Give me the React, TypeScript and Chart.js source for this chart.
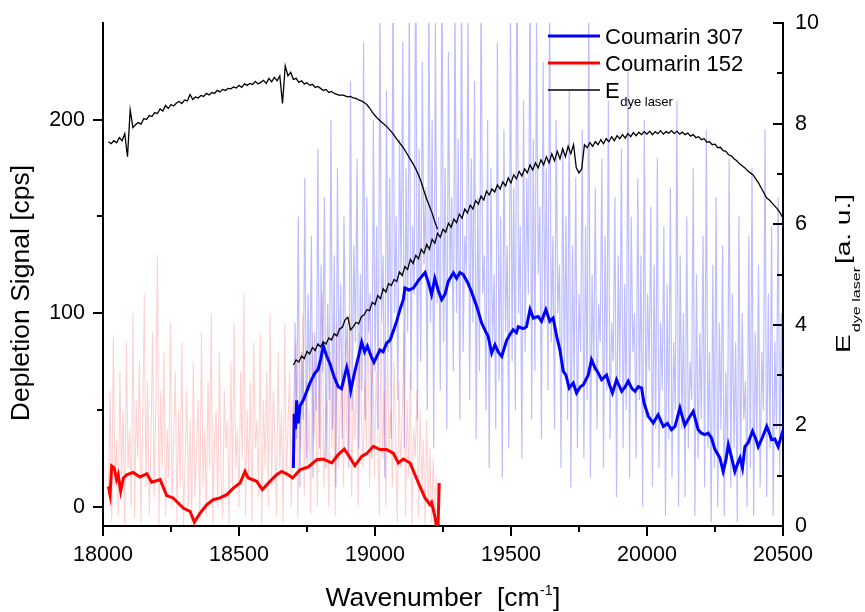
import React, { useEffect, useRef } from 'react';
import { Chart, registerables } from 'chart.js';

Chart.register(...registerables);

// ---------------- data ----------------
// Coumarin 307, smoothed depletion signal [cps]
const c307SmoothX = [
  18700, 18703, 18708, 18712, 18718, 18724, 18736, 18750, 18761, 18779,
  18791, 18800, 18810, 18822, 18834, 18850, 18865, 18877, 18896, 18903,
  18911, 18926, 18940, 18951, 18962, 18972, 18985, 18996, 19008, 19018,
  19030, 19043, 19055, 19067, 19080, 19092, 19104, 19110, 19125, 19141,
  19160, 19184, 19196, 19208, 19220, 19232, 19245, 19258, 19269, 19288,
  19300, 19312, 19325, 19340, 19355, 19374, 19392, 19405, 19416, 19429,
  19441, 19453, 19466, 19484, 19496, 19508, 19520, 19527, 19545, 19557,
  19570, 19582, 19600, 19612, 19628, 19643, 19655, 19668, 19680, 19692,
  19702, 19714, 19729, 19741, 19755, 19766, 19784, 19796, 19808, 19821,
  19833, 19851, 19862, 19873, 19888, 19907, 19920, 19931, 19945, 19956,
  19968, 19980, 19989, 20005, 20023, 20041, 20060, 20075, 20090, 20103,
  20121, 20139, 20155, 20170, 20188, 20200, 20213, 20225, 20237, 20250,
  20268, 20280, 20290, 20299, 20310, 20323, 20335, 20342, 20351, 20360,
  20372, 20388, 20400, 20409, 20425, 20440, 20450, 20458, 20470, 20482,
  20498, 20500,
];
const c307SmoothY = [
  20, 48, 40, 55, 43, 52, 55, 60, 64, 69,
  71, 76, 83, 78, 74, 67, 62, 61, 72, 68,
  60, 70, 78, 85, 80, 83, 78, 74.6, 78, 81,
  80, 84.6, 86, 90.6, 96, 102, 107, 113, 112, 113,
  117, 121, 116, 109.6, 118, 112, 107, 110, 116.4, 120.8,
  118, 121, 119.9, 116, 111, 103.5, 95, 91, 88, 79.4,
  83.7, 80, 77.7, 86, 89, 91.5, 90, 93, 92, 93,
  102, 97.5, 98.3, 95.8, 101.8, 95.8, 97.5, 88, 81, 70,
  68, 61.3, 63.9, 58.8, 62, 63, 68, 76, 72, 69,
  65.6, 68, 63, 58.8, 65.6, 59.6, 62, 64.8, 61, 59.6,
  62, 61.3, 53.6, 46.7, 43.2, 47.5, 41.5, 43, 39.8, 41.5,
  51, 42, 46, 49.2, 39.8, 38, 37.2, 38, 35.5, 29.5,
  25.2, 18.2, 24, 32, 26, 18.2, 23, 25.2, 20, 31,
  33, 39, 35, 31, 36, 41.5, 38, 34.6, 35, 31,
  38.4, 38,
];

// Coumarin 152, smoothed depletion signal [cps]
const c152SmoothX = [
  18020, 18026, 18032, 18041, 18050, 18056, 18065, 18075, 18087, 18111,
  18136, 18161, 18179, 18210, 18234, 18258, 18295, 18320, 18336, 18357,
  18381, 18405, 18430, 18455, 18479, 18504, 18522, 18534, 18565, 18586,
  18608, 18638, 18657, 18681, 18697, 18724, 18755, 18786, 18810, 18841,
  18865, 18887, 18905, 18926, 18951, 18969, 18994, 19018, 19043, 19067,
  19086, 19104, 19129, 19147, 19165, 19184, 19202, 19208, 19220, 19226,
  19232, 19236,
];
const c152SmoothY = [
  10.5, 6.2, 21, 20, 14, 16.5, 8, 14.8, 16.5, 17.7,
  15.3, 17, 12.6, 14, 5.7, 4.5, -0.7, -2.4, -8, -3.3,
  1, 3.6, 4.5, 6.2, 9.6, 12.2, 18.2, 14.8, 13.1, 8.8,
  12.2, 16.5, 18.2, 16.5, 14.8, 19, 20.5, 24.3, 24.6, 22.6,
  26.9, 29.8, 26, 21.2, 26, 27.4, 31.2, 29.5, 29.5, 27.7,
  22.6, 24.6, 22.6, 16.5, 10.5, 4.5, 1, 2.2, -5, -10,
  -9, 12.2,
];

// Coumarin 307, raw depletion signal [cps], sampled every 6 cm-1 from 18700
const c307RawStart = 18700;
const c307RawStep = 6;
const c307Raw = [
  20, 95, 35, 150, 10, 80, 45, 170, 25, 110,
  60, 140, 15, 90, 50, 185, 30, 125, 70, 160,
  20, 105, 55, 200, 40, 130, 10, 175, 65, 115,
  35, 150, 75, 95, 20, 220, 50, 135, 85, 180,
  30, 120, 60, 240, 45, 160, 90, 110, 25, 200,
  70, 145, 40, 260, 95, 130, 15, 215, 80, 170,
  35, 280, 100, 150, 55, 190, 120, 240, 30, 175,
  90, 260, 60, 145, 110, 300, 45, 185, 75, 230,
  125, 165, 50, 270, 95, 200, 30, 250, 105, 150,
  60, 290, 85, 175, 40, 235, 115, 160, 70, 265,
  100, 190, 45, 280, 80, 140, 120, 255, 55, 180,
  95, 220, 35, 160, 70, 270, 110, 130, 50, 200,
  20, 175, 85, 120, 40, 240, 65, 150, 15, 195,
  90, 135, 30, 260, 75, 165, 50, 300, 100, 145,
  25, 210, 80, 170, 110, 280, 45, 190, 70, 250,
  120, 155, 35, 230, 95, 175, 60, 265, 85, 140,
  40, 200, 100, 125, 20, 185, 70, 150, 45, 215,
  10, 135, 60, 170, 30, 110, 80, 195, 25, 145,
  55, 260, 15, 120, 70, 165, 40, 105, 85, 180,
  20, 140, 60, 210, 35, 95, 75, 160, 5, 130,
  65, 185, 30, 115, 50, 225, 15, 150, 80, 100,
  25, 170, 55, 130, 0, 200, 45, 110, 70, 155,
  10, 125, 40, 180, 20, 95, 60, 145, -5, 115,
  35, 165, 15, 85, 50, 210, 0, 130, 40, 100,
  5, 150, 30, 75, 55, 175, -5, 120, 25, 90,
  45, 140, 10, 195, 30, 80, -8, 125, 20, 160,
  0, 95, 40, 135, -5, 70, 25, 180, 10, 110,
  30, 85, -8, 150, 15, 100, 45, 65, 0, 140,
  20, 175, -5, 90, 35, 125, 10, 80, 50, 195,
  5, 110, 30, 145, -5, 85, 40, 160, 15, 100,
  35,
];

// Coumarin 152, raw depletion signal [cps], sampled every 6 cm-1 from 18020
const c152RawStart = 18020;
const c152RawStep = 6;
const c152Raw = [
  5, 60, -8, 88, 10, 35, -5, 70, 15, 50,
  -10, 85, 20, 40, 0, 100, -6, 55, 25, 75,
  -8, 45, 110, 10, 65, -4, 30, 90, 5, 50,
  130, -10, 60, 20, 80, -5, 40, 15, 95, 0,
  35, 70, -8, 50, 10, 85, -10, 25, 60, 0,
  45, -10, 75, 5, 30, 55, -8, 90, 10, 40,
  -5, 65, 20, 100, -10, 35, 50, 0, 80, 15,
  -6, 60, 30, 45, -10, 75, 10, 95, 20, 40,
  0, 70, 25, 110, -5, 50, 15, 65, -8, 85,
  30, 45, 5, 90, -10, 55, 20, 70, 0, 100,
  10, 60, 35, -5, 80, 20, 50, -8, 95, 15,
  40, 70, 0, 55, 25, 85, -6, 45, 30, 100,
  5, 65, 20, 50, -4, 90, 35, 60, 0, 75,
  25, 110, 10, 45, 55, 0, 80, 30, 65, -5,
  95, 20, 50, 70, 10, 85, 40, 25, 100, 5,
  60, 35, 75, 0, 90, 45, 20, 65, 30, 105,
  10, 55, 80, 15, 70, 40, -5, 95, 25, 60,
  0, 85, 30, 50, 10, 75, 35, -8, 65, 20,
  45, 90, -5, 55, 15, 70, -10, 40, 25, 60,
  -6, 50, 10, 35, -10, 45, 0, 30, -8, 25,
  -10, 15, 5,
];

// Dye laser energy [a. u.], first scan (every 10 cm-1 from 18020)
const dyeAStart = 18020;
const dyeAStep = 10;
const dyeA = [
  7.64, 7.60, 7.66, 7.62, 7.72, 7.66, 7.80, 7.34, 8.27, 7.92,
  7.98, 8.02, 7.99, 8.10, 8.08, 8.16, 8.14, 8.22, 8.20, 8.29,
  8.25, 8.36, 8.30, 8.38, 8.35, 8.41, 8.44, 8.40, 8.47, 8.45,
  8.58, 8.48, 8.53, 8.51, 8.56, 8.54, 8.60, 8.57, 8.62, 8.60,
  8.66, 8.63, 8.68, 8.66, 8.70, 8.69, 8.73, 8.71, 8.76, 8.72,
  8.79, 8.76, 8.80, 8.78, 8.84, 8.79, 8.82, 8.86, 8.80, 8.90,
  8.83, 8.92, 8.85, 8.95, 8.40, 9.15, 8.95, 9.02, 8.88, 8.90,
  8.82, 8.85, 8.79, 8.81, 8.76, 8.78, 8.72, 8.74, 8.70, 8.66,
  8.68, 8.62, 8.64, 8.60, 8.58, 8.56, 8.57, 8.55, 8.53, 8.54,
  8.51, 8.50, 8.47, 8.45, 8.42, 8.38, 8.31, 8.23, 8.16, 8.10,
  8.05, 8.00, 7.96, 7.90, 7.84, 7.77, 7.69, 7.62, 7.55, 7.47,
  7.38, 7.29, 7.20, 7.10, 6.98, 6.84, 6.66, 6.50, 6.36, 6.22,
  6.05, 5.90,
];

// Dye laser energy [a. u.], second scan (every 10 cm-1 from 18700)
const dyeBStart = 18700;
const dyeBStep = 10;
const dyeB = [
  3.20, 3.30, 3.26, 3.38, 3.33, 3.47, 3.42, 3.55, 3.49, 3.62,
  3.56, 3.66, 3.62, 3.74, 3.70, 3.82, 3.78, 3.92, 3.95, 4.10,
  4.15, 3.90, 3.96, 4.05, 4.02, 4.16, 4.20, 4.30, 4.28, 4.45,
  4.40, 4.58, 4.52, 4.72, 4.65, 4.82, 4.78, 4.90, 4.86, 5.05,
  4.98, 5.16, 5.10, 5.30, 5.22, 5.38, 5.31, 5.50, 5.42, 5.60,
  5.50, 5.70, 5.62, 5.82, 5.74, 5.90, 5.84, 6.02, 5.94, 6.10,
  6.03, 6.20, 6.12, 6.30, 6.22, 6.38, 6.30, 6.47, 6.40, 6.56,
  6.48, 6.66, 6.58, 6.70, 6.64, 6.78, 6.70, 6.84, 6.76, 6.92,
  6.82, 6.98, 6.90, 7.05, 6.96, 7.10, 7.02, 7.18, 7.08, 7.22,
  7.12, 7.28, 7.18, 7.34, 7.22, 7.40, 7.26, 7.45, 7.30, 7.50,
  7.34, 7.55, 7.40, 7.58, 7.12, 7.02, 7.10, 7.58, 7.52, 7.62,
  7.55, 7.64, 7.58, 7.68, 7.60, 7.70, 7.64, 7.74, 7.66, 7.76,
  7.70, 7.78, 7.71, 7.80, 7.74, 7.82, 7.76, 7.83, 7.78, 7.84,
  7.79, 7.85, 7.78, 7.84, 7.80, 7.86, 7.79, 7.84, 7.81, 7.86,
  7.80, 7.85, 7.79, 7.83, 7.78, 7.81, 7.75, 7.78, 7.72, 7.74,
  7.68, 7.70, 7.63, 7.64, 7.58, 7.59, 7.52, 7.53, 7.46, 7.45,
  7.38, 7.36, 7.30, 7.26, 7.20, 7.16, 7.12, 7.06, 7.02, 6.98,
  6.90, 6.82, 6.72, 6.62, 6.52, 6.48, 6.42, 6.36, 6.30, 6.22,
  6.12,
];

// axes
const xRange = [18000, 20500];
const leftRange = [-10, 250];
const rightRange = [0, 10];
const xMajorTicks = [18000, 18500, 19000, 19500, 20000, 20500];
const leftMajorTicks = [0, 100, 200];
const rightMajorTicks = [0, 2, 4, 6, 8, 10];
const xMinorTicks = [18250, 18750, 19250, 19750, 20250];
const leftMinorTicks = [50, 150];
const rightMinorTicks = [1, 3, 5, 7, 9];

const legendLabels = ['Coumarin 307', 'Coumarin 152', 'E'];
const legendSub = 'dye laser';
const xTitle = 'Wavenumber  [cm';
const xTitleSup = '-1';
const leftTitle = 'Depletion Signal [cps]';
const rightTitleMain = 'E';
const rightTitleSub = 'dye laser';
const rightTitleEnd = '[a. u.]';

// ---------------- helpers ----------------
const FONT = 'Arial, "Liberation Sans", sans-serif';
const BLUE = '#0000ff';
const RED = '#ff0000';

const zip = (xs: number[], ys: number[]) => xs.map((x, i) => ({ x, y: ys[i] }));
const onGrid = (start: number, step: number, ys: number[]) =>
  ys.map((y, i) => ({ x: start + i * step, y }));
const setTicks = (values: number[]) => (s: any) => {
  s.ticks = values.map((v) => ({ value: v }));
};
const fixSize = (prop: 'width' | 'height', size: number) => (s: any) => {
  s[prop] = size;
  s.paddingTop = 0;
  s.paddingBottom = 0;
  s.paddingLeft = 0;
  s.paddingRight = 0;
};

const decorations = {
  id: 'decorations',
  afterDraw(chart: any) {
    const ctx: CanvasRenderingContext2D = chart.ctx;
    const area = chart.chartArea;
    const sx = chart.scales.x;
    const sy = chart.scales.y;
    const sy1 = chart.scales.y1;
    ctx.save();
    // minor ticks
    ctx.strokeStyle = '#000';
    ctx.lineWidth = 2;
    ctx.beginPath();
    xMinorTicks.forEach((v) => {
      const p = Math.round(sx.getPixelForValue(v));
      ctx.moveTo(p, area.bottom);
      ctx.lineTo(p, area.bottom + 6);
    });
    leftMinorTicks.forEach((v) => {
      const p = Math.round(sy.getPixelForValue(v));
      ctx.moveTo(area.left - 6, p);
      ctx.lineTo(area.left, p);
    });
    rightMinorTicks.forEach((v) => {
      const p = Math.round(sy1.getPixelForValue(v));
      ctx.moveTo(area.right - 6, p);
      ctx.lineTo(area.right, p);
    });
    ctx.stroke();

    ctx.fillStyle = '#000';
    ctx.textBaseline = 'alphabetic';

    // bottom title
    const cx = (area.left + area.right) / 2;
    const big = `26.5px ${FONT}`;
    const small = `14px ${FONT}`;
    ctx.font = big;
    const w1 = ctx.measureText(xTitle).width;
    const w3 = ctx.measureText(']').width;
    ctx.font = small;
    const w2 = ctx.measureText(xTitleSup).width;
    const x0 = cx - (w1 + w2 + 1 + w3) / 2;
    const by = area.bottom + 80;
    ctx.textAlign = 'left';
    ctx.font = big;
    ctx.fillText(xTitle, x0, by);
    ctx.font = small;
    ctx.fillText(xTitleSup, x0 + w1 + 0.5, by - 11);
    ctx.font = big;
    ctx.fillText(']', x0 + w1 + w2 + 1, by);

    // left title
    ctx.save();
    ctx.translate(area.left - 74, area.top + 270);
    ctx.rotate(-Math.PI / 2);
    ctx.textAlign = 'center';
    ctx.font = `26.5px ${FONT}`;
    ctx.fillText(leftTitle, 0, 0);
    ctx.restore();

    // right title
    ctx.save();
    ctx.translate(area.right + 67, area.top + 330);
    ctx.rotate(-Math.PI / 2);
    ctx.scale(1.4, 1);
    ctx.textAlign = 'left';
    ctx.font = `20px ${FONT}`;
    const eW = ctx.measureText(rightTitleMain).width;
    ctx.fillText(rightTitleMain, 0, 0);
    ctx.font = `11.5px ${FONT}`;
    const sW = ctx.measureText(rightTitleSub).width;
    ctx.fillText(rightTitleSub, eW + 1.5, 10);
    ctx.font = `20px ${FONT}`;
    ctx.fillText(rightTitleEnd, eW + sW + 3.5, 0);
    ctx.restore();

    // legend
    const lx0 = area.right - 235;
    const lx1 = area.right - 183;
    const tx = area.right - 178;
    const rows = [
      { color: BLUE, width: 3, y: area.top + 13 },
      { color: RED, width: 3, y: area.top + 40 },
      { color: '#000', width: 1.5, y: area.top + 67 },
    ];
    rows.forEach((r, i) => {
      ctx.strokeStyle = r.color;
      ctx.lineWidth = r.width;
      ctx.beginPath();
      ctx.moveTo(lx0, r.y);
      ctx.lineTo(lx1, r.y);
      ctx.stroke();
      ctx.font = `22px ${FONT}`;
      ctx.textAlign = 'left';
      ctx.fillText(legendLabels[i], tx, r.y + 8);
      if (i === 2) {
        const ew = ctx.measureText(legendLabels[i]).width;
        ctx.font = `13px ${FONT}`;
        ctx.fillText(legendSub, tx + ew + 0.5, r.y + 16);
      }
    });
    ctx.restore();
  },
};

export default function App() {
  const ref = useRef<HTMLCanvasElement | null>(null);

  useEffect(() => {
    if (!ref.current) return;
    const tickFont = { family: FONT, size: 21.5 };
    const chart = new Chart(ref.current, {
      type: 'line',
      data: {
        datasets: [
          {
            label: 'E dye laser (scan 1)',
            data: onGrid(dyeAStart, dyeAStep, dyeA),
            yAxisID: 'y1',
            borderColor: '#000',
            borderWidth: 1.3,
            order: 1,
          },
          {
            label: 'E dye laser (scan 2)',
            data: onGrid(dyeBStart, dyeBStep, dyeB),
            yAxisID: 'y1',
            borderColor: '#000',
            borderWidth: 1.3,
            order: 1,
          },
          {
            label: 'Coumarin 307',
            data: zip(c307SmoothX, c307SmoothY),
            yAxisID: 'y',
            borderColor: BLUE,
            borderWidth: 3,
            order: 2,
          },
          {
            label: 'Coumarin 152',
            data: zip(c152SmoothX, c152SmoothY),
            yAxisID: 'y',
            borderColor: RED,
            borderWidth: 3,
            order: 3,
          },
          {
            label: 'Coumarin 152 raw',
            data: onGrid(c152RawStart, c152RawStep, c152Raw),
            yAxisID: 'y',
            borderColor: 'rgba(255,0,0,0.18)',
            borderWidth: 1.1,
            order: 4,
          },
          {
            label: 'Coumarin 307 raw',
            data: onGrid(c307RawStart, c307RawStep, c307Raw),
            yAxisID: 'y',
            borderColor: 'rgba(0,0,255,0.26)',
            borderWidth: 1.2,
            order: 5,
          },
        ],
      },
      options: {
        animation: false,
        responsive: false,
        devicePixelRatio: 1,
        layout: { padding: { top: 23, left: 0, right: 0, bottom: 0 } },
        elements: { point: { radius: 0 }, line: { tension: 0 } },
        plugins: { legend: { display: false }, tooltip: { enabled: false } },
        scales: {
          x: {
            type: 'linear',
            min: xRange[0],
            max: xRange[1],
            afterFit: fixSize('height', 86),
            afterBuildTicks: setTicks(xMajorTicks),
            ticks: {
              autoSkip: false,
              maxRotation: 0,
              color: '#000',
              font: tickFont,
              padding: 6,
              callback: (v: any) => String(v),
            },
            grid: { drawOnChartArea: false, drawTicks: true, tickLength: 10, color: '#000', lineWidth: 2 },
            border: { display: true, color: '#000', width: 2 },
          },
          y: {
            type: 'linear',
            position: 'left',
            min: leftRange[0],
            max: leftRange[1],
            afterFit: fixSize('width', 103),
            afterBuildTicks: setTicks(leftMajorTicks),
            ticks: { color: '#000', font: tickFont, padding: 8 },
            grid: { drawOnChartArea: false, drawTicks: true, tickLength: 10, color: '#000', lineWidth: 2 },
            border: { display: true, color: '#000', width: 2 },
          },
          y1: {
            type: 'linear',
            position: 'right',
            min: rightRange[0],
            max: rightRange[1],
            afterFit: fixSize('width', 82),
            afterBuildTicks: setTicks(rightMajorTicks),
            ticks: { color: '#000', font: tickFont, padding: 22 },
            grid: { drawOnChartArea: false, drawTicks: true, tickLength: -10, color: '#000', lineWidth: 2 },
            border: { display: true, color: '#000', width: 2 },
          },
        },
      },
      plugins: [decorations],
    } as any);
    return () => chart.destroy();
  }, []);

  return (
    <div style={{ position: 'fixed', left: 0, top: 0, width: 865, height: 612, background: '#fff' }}>
      <canvas ref={ref} width={865} height={612} style={{ display: 'block' }} />
    </div>
  );
}
